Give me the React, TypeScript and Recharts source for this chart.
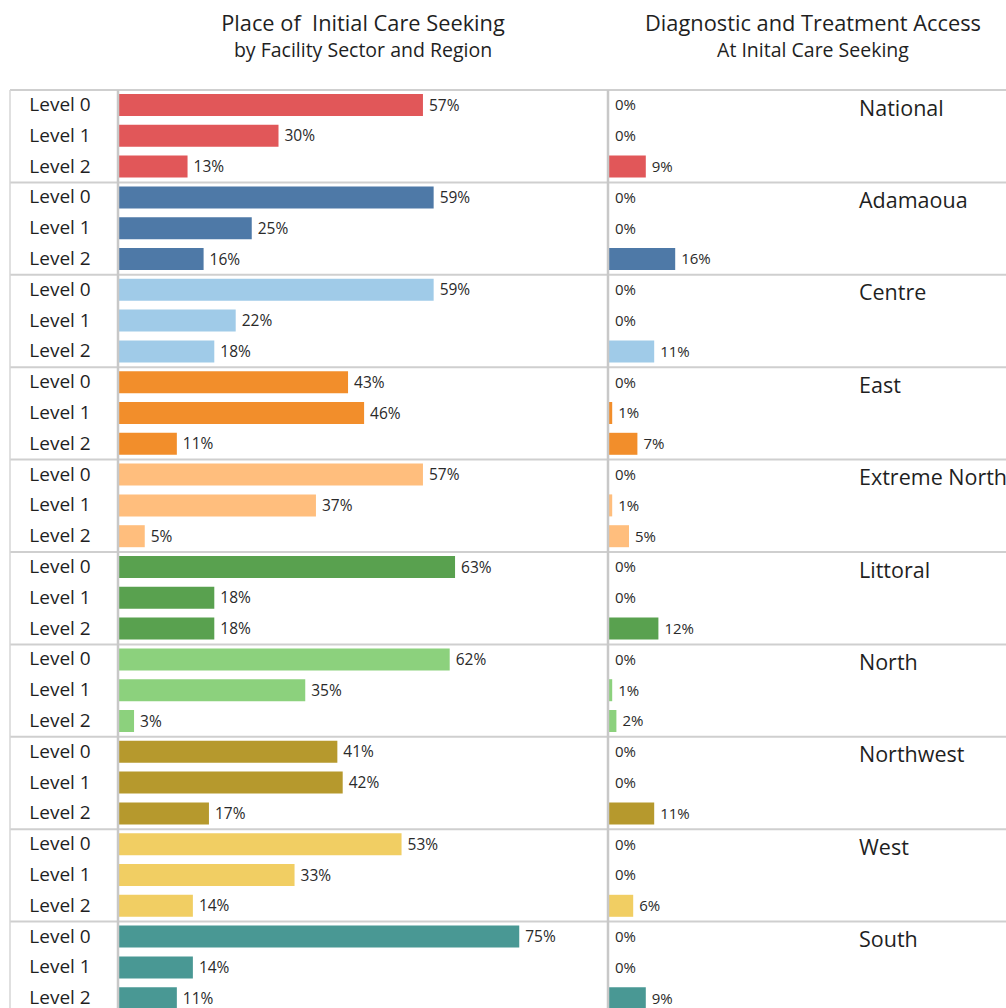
import React from 'react';
import {
  BarChart,
  Bar,
  XAxis,
  YAxis,
  CartesianGrid,
  Cell,
  LabelList,
  ReferenceLine,
} from 'recharts';

const regions = [
  'National',
  'Adamaoua',
  'Centre',
  'East',
  'Extreme North',
  'Littoral',
  'North',
  'Northwest',
  'West',
  'South',
];
const levels = ['Level 0', 'Level 1', 'Level 2'];

// tableau-like palette, one per region
const regionColors = [
  '#e15759',
  '#4e79a7',
  '#a0cbe8',
  '#f28e2b',
  '#ffbe7d',
  '#59a14f',
  '#8cd17d',
  '#b6992d',
  '#f1ce63',
  '#499894',
];

// place of initial care seeking (%), one array per facility level
const careLevel0 = [57, 59, 59, 43, 57, 63, 62, 41, 53, 75];
const careLevel1 = [30, 25, 22, 46, 37, 18, 35, 42, 33, 14];
const careLevel2 = [13, 16, 18, 11, 5, 18, 3, 17, 14, 11];

// diagnostic and treatment access at initial care seeking (%)
const accessLevel0 = [0, 0, 0, 0, 0, 0, 0, 0, 0, 0];
const accessLevel1 = [0, 0, 0, 1, 1, 0, 1, 0, 0, 0];
const accessLevel2 = [9, 16, 11, 7, 5, 12, 2, 11, 6, 9];

const careByLevel = [careLevel0, careLevel1, careLevel2];
const accessByLevel = [accessLevel0, accessLevel1, accessLevel2];

const rows = regions.flatMap((region, r) =>
  levels.map((level, l) => ({
    id: `${region}-${l}`,
    level,
    color: regionColors[r],
    care: careByLevel[l][r],
    access: accessByLevel[l][r],
    regionName: l === 0 ? region : '',
  }))
);

// layout
const FONT = '"Open Sans", "Noto Sans", sans-serif';
const CHART_W = 1060;
const CHART_H = 1014;
const TOP = 90;
const LEFT = 10;
const PLOT_W = CHART_W - LEFT;
const LEFT_ZERO = 108; // px from plot left where the first panel starts
const LEFT_PX = 5.35; // px per percent
const RIGHT_ZERO = 598;
const RIGHT_PX = 4.2;
const LEVEL_X = 60;
const GRID = '#cfcfcf';
const TEXT = '#1f1f1f';

const leftDomain = [-LEFT_ZERO / LEFT_PX, (PLOT_W - LEFT_ZERO) / LEFT_PX];
const rightDomain = [-RIGHT_ZERO / RIGHT_PX, (PLOT_W - RIGHT_ZERO) / RIGHT_PX];

const boxOf = (props: any) => props.viewBox || props;

const LevelName = (props: any) => {
  const vb = boxOf(props);
  return (
    <text
      x={LEVEL_X}
      y={vb.y + vb.height / 2 - 1}
      textAnchor="middle"
      dominantBaseline="central"
      fontSize={19}
      fill={TEXT}
      fontFamily={FONT}
    >
      {props.value}
    </text>
  );
};

const RegionName = (props: any) => {
  const { value } = props;
  if (!value) return null;
  const vb = boxOf(props);
  return (
    <text
      x={vb.x + 251}
      y={vb.y + vb.height / 2 + 2}
      dominantBaseline="central"
      fontSize={21.5}
      fill={TEXT}
      fontFamily={FONT}
    >
      {value}
    </text>
  );
};

export default function App() {
  return (
    <div
      style={{
        position: 'relative',
        width: 1006,
        height: 1008,
        overflow: 'hidden',
        background: '#fff',
        fontFamily: FONT,
      }}
    >
      <style>{'body{margin:0;overflow:hidden}'}</style>
      <svg
        width={1006}
        height={80}
        style={{ position: 'absolute', left: 0, top: 0 }}
        fontFamily={FONT}
        fill={TEXT}
      >
        <text x={363} y={31} textAnchor="middle" fontSize={21.8} style={{ whiteSpace: 'pre' }}>
          {'Place of  Initial Care Seeking'}
        </text>
        <text x={363} y={57} textAnchor="middle" fontSize={19.5}>
          by Facility Sector and Region
        </text>
        <text x={813} y={31} textAnchor="middle" fontSize={21.8}>
          Diagnostic and Treatment Access
        </text>
        <text x={813} y={57} textAnchor="middle" fontSize={19.5}>
          At Inital Care Seeking
        </text>
      </svg>
      <div style={{ position: 'absolute', left: 0, top: 0 }}>
        <BarChart
          width={CHART_W}
          height={CHART_H}
          data={rows}
          layout="vertical"
          margin={{ top: TOP, right: 0, bottom: 0, left: LEFT }}
          barSize={22}
        >
          <CartesianGrid
            xAxisId="l"
            yAxisId="l"
            vertical={false}
            stroke={GRID}
            strokeWidth={2}
            horizontalCoordinatesGenerator={({ offset }: any) =>
              regions
                .map((_, i) => offset.top + (i * offset.height) / regions.length)
                .concat([offset.top + offset.height])
            }
          />
          <XAxis xAxisId="l" type="number" domain={leftDomain} allowDataOverflow hide />
          <XAxis xAxisId="r" type="number" domain={rightDomain} allowDataOverflow hide />
          <YAxis yAxisId="l" type="category" dataKey="id" hide />
          <YAxis yAxisId="r" type="category" dataKey="id" hide />
          <Bar dataKey="care" xAxisId="l" yAxisId="l" isAnimationActive={false}>
            {rows.map((row) => (
              <Cell key={row.id} fill={row.color} />
            ))}
            <LabelList
              dataKey="care"
              position="right"
              offset={6}
              formatter={(v: any) => `${v}%`}
              fill="#2a2a2a"
              fontSize={15.5}
              fontFamily={FONT}
            />
            <LabelList dataKey="level" content={<LevelName />} />
          </Bar>
          <Bar
            dataKey="access"
            xAxisId="r"
            yAxisId="r"
            minPointSize={1}
            isAnimationActive={false}
          >
            {rows.map((row) => (
              <Cell key={row.id} fill={row.color} fillOpacity={row.access ? 1 : 0.35} />
            ))}
            <LabelList
              dataKey="access"
              position="right"
              offset={6}
              formatter={(v: any) => `${v}%`}
              fill="#2a2a2a"
              fontSize={15}
              fontFamily={FONT}
            />
            <LabelList dataKey="regionName" content={<RegionName />} />
          </Bar>
          <ReferenceLine
            xAxisId="l"
            yAxisId="l"
            x={leftDomain[0]}
            stroke="#d6d6d6"
            strokeWidth={1.5}
          />
          <ReferenceLine xAxisId="l" yAxisId="l" x={0} stroke="#c8c8c8" strokeWidth={2.5} />
          <ReferenceLine xAxisId="r" yAxisId="r" x={0} stroke="#c8c8c8" strokeWidth={2.5} />
        </BarChart>
      </div>
    </div>
  );
}
